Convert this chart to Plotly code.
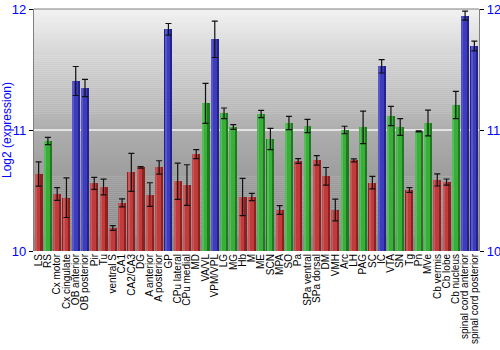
import plotly.graph_objects as go
import numpy as np

# Brain regions and mean log2 expression with standard error
regions = [
    "LS", "RS", "Cx motor", "Cx cingulate", "OB anterior", "OB posterior", "Pir", "Tu",
    "ventral S", "CA1", "CA2/CA3", "DG", "A anterior", "A posterior", "GP", "CPu lateral",
    "CPu medial", "MD", "VA/VL", "VPM/VPL", "LG", "MG", "Hb", "M", "ME", "SCN", "MPA", "SO",
    "Pa", "SPa ventral", "SPa dorsal", "DM", "VMH", "Arc", "LH", "PAG", "SC", "IC", "VTA",
    "SN", "Tg", "Pn", "MVe", "Cb vermis", "Cb lobe", "Cb nucleus", "spinal cord anterior",
    "spinal cord posterior",
]
expression = [
    10.636, 10.909, 10.471, 10.441, 11.405, 11.347, 10.559, 10.529,
    10.190, 10.397, 10.650, 10.691, 10.466, 10.691, 11.832, 10.576,
    10.545, 10.800, 11.220, 11.749, 11.138, 11.025, 10.446, 10.446, 11.132, 10.926, 10.339, 11.058,
    10.744, 11.033, 10.749, 10.617, 10.339, 11.000, 10.749, 11.022, 10.565, 11.526, 11.116,
    11.025, 10.504, 10.989, 11.058, 10.587, 10.570, 11.207, 11.945,
    11.694,
]
std_err = [
    0.100, 0.030, 0.052, 0.164, 0.120, 0.072, 0.050, 0.065,
    0.020, 0.033, 0.157, 0.007, 0.098, 0.055, 0.048, 0.150,
    0.168, 0.037, 0.165, 0.150, 0.044, 0.020, 0.154, 0.030, 0.030, 0.088, 0.036, 0.055,
    0.019, 0.054, 0.040, 0.073, 0.090, 0.031, 0.013, 0.134, 0.051, 0.055, 0.080,
    0.069, 0.019, 0.004, 0.107, 0.050, 0.025, 0.113, 0.037,
    0.040,
]
# colour group of each region: r = red, g = green, b = blue
group = [
    "r", "g", "r", "r", "b", "b", "r", "r",
    "r", "r", "r", "r", "r", "r", "b", "r",
    "r", "r", "g", "b", "g", "g", "r", "r", "g", "g", "r", "g",
    "r", "g", "r", "r", "r", "g", "r", "g", "r", "b", "g",
    "g", "r", "g", "g", "r", "r", "g", "b",
    "b",
]

dark = {"r": "#8e2020", "g": "#1f7a1f", "b": "#22228a"}
main = {"r": "#c03c3c", "g": "#3aae3a", "b": "#3c3cbc"}
light = {"r": "#cf6464", "g": "#62c462", "b": "#6464d2"}

YMIN, YMAX = 10, 12
blue = "#0000ff"
font = "Liberation Sans, Arial, sans-serif"

fig = go.Figure()

# shaded bars: dark body, lighter face, narrow highlight
fig.add_trace(go.Bar(x=regions, y=[v - YMIN for v in expression], base=YMIN,
                     width=0.86, offset=-0.43,
                     marker=dict(color=[dark[g] for g in group], line=dict(width=0)),
                     hoverinfo="skip", showlegend=False))
fig.add_trace(go.Bar(x=regions, y=[v - YMIN for v in expression], base=YMIN,
                     width=0.58, offset=-0.38,
                     marker=dict(color=[main[g] for g in group], line=dict(width=0)),
                     hoverinfo="skip", showlegend=False))
fig.add_trace(go.Bar(x=regions, y=[v - YMIN for v in expression], base=YMIN,
                     width=0.14, offset=-0.36,
                     marker=dict(color=[light[g] for g in group], line=dict(width=0), opacity=0.7),
                     hoverinfo="skip", showlegend=False))

# error bars drawn on top of the bars
fig.add_trace(go.Scatter(x=regions, y=expression, mode="markers",
                         marker=dict(size=0.1, color="rgba(0,0,0,0)"),
                         error_y=dict(type="data", array=std_err, visible=True,
                                      color="#111111", thickness=1.2, width=3),
                         yaxis="y2", hoverinfo="skip", showlegend=False))

# vertical gray gradient behind the plot
stops_v = [10.0, 10.5, 11.0, 11.5, 12.0]
stops_c = [0x88, 0x98, 0xae, 0xcc, 0xf2]
shapes = []
n = 120
edges = np.linspace(YMIN, YMAX, n + 1)
for i in range(n):
    mid = (edges[i] + edges[i + 1]) / 2
    c = int(round(np.interp(mid, stops_v, stops_c)))
    shapes.append(dict(type="rect", xref="paper", yref="y", x0=0, x1=1,
                       y0=edges[i], y1=edges[i + 1] + 0.002,
                       fillcolor=f"rgb({c},{c},{c})", line=dict(width=0), layer="below"))
# white guide line at 11
shapes.append(dict(type="line", xref="paper", yref="y", x0=0, x1=1, y0=11, y1=11,
                   line=dict(color="#f4f4f4", width=1.6), layer="below"))
# top border
shapes.append(dict(type="line", xref="paper", yref="paper", x0=0, x1=1, y0=1, y1=1,
                   line=dict(color="#808080", width=1.2)))

axis_common = dict(range=[YMIN, YMAX], tickvals=[10, 11, 12], showgrid=False, zeroline=False,
                   showline=True, linecolor="#808080", linewidth=1.2,
                   ticks="outside", ticklen=4, tickcolor="#000000", tickwidth=1,
                   tickfont=dict(family=font, size=13, color=blue), fixedrange=True)

fig.update_layout(
    width=500, height=350,
    margin=dict(l=34, r=21, t=9, b=99, autoexpand=False),
    paper_bgcolor="#ffffff", plot_bgcolor="#ffffff",
    barmode="overlay", bargap=0,
    shapes=shapes,
    xaxis=dict(type="category", range=[-0.5, len(regions) - 0.5], tickangle=-90,
               tickmode="array", tickvals=regions, ticktext=regions,
               tickfont=dict(family=font, size=10, color="#000000"),
               showgrid=False, zeroline=False, showline=False, ticks="", fixedrange=True),
    yaxis=dict(**axis_common, side="left",
               title=dict(text="Log2 (expression)", standoff=4,
                          font=dict(family=font, size=12, color=blue))),
    yaxis2=dict(**axis_common, side="right", overlaying="y", ticklabelstandoff=0),
)

fig.write_html("out.html")
